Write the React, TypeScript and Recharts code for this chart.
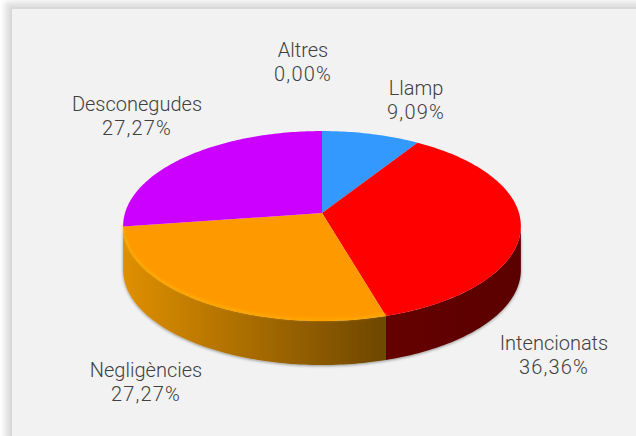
import React from "react";
import { PieChart, Pie, Cell } from "recharts";

const categories = ["Llamp", "Intencionats", "Negligències", "Desconegudes", "Altres"];
const counts = [1, 4, 3, 3, 0];
const colors = ["#3399ff", "#ff0000", "#ff9900", "#cc00ff", "#a5a5a5"];
const wallFills = ["#1f5f9f", "url(#wallRed)", "url(#wallOrange)", "#7f0099", "#666666"];
const data = categories.map((name, i) => ({ name, value: counts[i] }));

// Perspective of the pie disc (fitted to the picture)
const CX = 322;
const CY = 213;
const A = 197;
const B = 93.2;
const K = 0.137;
const DEPTH = 44;
const SILHOUETTE = (Math.asin(K) * 180) / Math.PI;

// Label anchors (centre x, first baseline y)
const labelAnchors: Record<string, [number, number]> = {
  Llamp: [416, 95],
  Intencionats: [554, 350],
  "Negligències": [146, 377],
  Desconegudes: [137, 111],
  Altres: [303, 57],
};

const project = (deg: number): [number, number] => {
  const r = (deg * Math.PI) / 180;
  const u = Math.cos(r);
  const v = -Math.sin(r);
  const w = 1 - K * v;
  return [CX + (A * u) / w, CY + (B * v) / w];
};

const arcPoints = (from: number, to: number) => {
  const n = Math.max(2, Math.ceil(Math.abs(from - to)));
  const pts: [number, number][] = [];
  for (let i = 0; i <= n; i++) pts.push(project(from + ((to - from) * i) / n));
  return pts;
};

const toPath = (pts: [number, number][]) =>
  pts.map((p, i) => `${i ? "L" : "M"}${p[0].toFixed(2)},${p[1].toFixed(2)}`).join(" ");

const Slice = (props: any) => {
  const { startAngle, endAngle, fill, index } = props;
  if (Math.abs(startAngle - endAngle) < 0.01) return null;
  const rim = arcPoints(startAngle, endAngle);
  const top = `M${CX},${CY} ${toPath(rim).replace("M", "L")} Z`;
  // Visible part of the rim: between the two silhouette points of the disc
  const lo = Math.max(endAngle, -180 + SILHOUETTE);
  const hi = Math.min(startAngle, -SILHOUETTE);
  let wall: string | null = null;
  let front: string | null = null;
  if (hi > lo) {
    const f = arcPoints(hi, lo);
    const b = [...f].reverse().map((p) => [p[0], p[1] + DEPTH] as [number, number]);
    wall = `${toPath(f)} ${toPath(b).replace("M", "L")} Z`;
    front = toPath(f);
  }
  return (
    <g>
      {wall && <path d={wall} fill={wallFills[index]} filter="url(#wallShadow)" />}
      <path d={top} fill={fill} />
      {front && index === 2 && (
        <path
          d={front}
          fill="none"
          stroke="#ffb300"
          strokeOpacity={0.7}
          strokeWidth={2}
          transform="translate(0,-1.5)"
          filter="url(#soft)"
        />
      )}
    </g>
  );
};

const renderLabel = (props: any) => {
  const { name, percent } = props;
  const [x, y] = labelAnchors[name];
  const pct = (percent * 100).toFixed(2).replace(".", ",") + "%";
  return (
    <text x={x} y={y} textAnchor="middle" fill="#404040" fontSize={20} fontFamily="Roboto" fontWeight={300}>
      <tspan x={x} dy={0}>{name}</tspan>
      <tspan x={x} dy={24} letterSpacing={1.2}>{pct}</tspan>
    </text>
  );
};

export default function App() {
  return (
    <div style={{ position: "absolute", left: 0, top: 0, width: 636, height: 436, background: "#ffffff", overflow: "hidden" }}>
      <div
        style={{
          position: "absolute",
          left: 10,
          top: 7,
          width: 660,
          height: 460,
          boxSizing: "border-box",
          background: "#f2f2f2",
          border: "2px solid #d9d9d9",
          boxShadow: "0 0 6px 5px #dedede",
        }}
      />
      <div style={{ position: "absolute", left: 0, top: 0 }}>
        <PieChart width={636} height={436} margin={{ top: 0, right: 0, bottom: 0, left: 0 }}>
          <defs>
            <linearGradient id="wallOrange" gradientUnits="userSpaceOnUse" x1="122" y1="0" x2="385" y2="0">
              <stop offset="0" stopColor="#e09000" />
              <stop offset="1" stopColor="#6e4700" />
            </linearGradient>
            <linearGradient id="wallRed" gradientUnits="userSpaceOnUse" x1="385" y1="0" x2="521" y2="0">
              <stop offset="0" stopColor="#660000" />
              <stop offset="1" stopColor="#5a0000" />
            </linearGradient>
            <filter id="wallShadow" x="-10%" y="-10%" width="120%" height="130%">
              <feDropShadow dx="0" dy="1" stdDeviation="1.5" floodColor="#000000" floodOpacity="0.4" />
            </filter>
            <filter id="soft" x="-5%" y="-5%" width="110%" height="110%">
              <feGaussianBlur stdDeviation="0.8" />
            </filter>
          </defs>
          <Pie
            data={data}
            dataKey="value"
            nameKey="name"
            cx={CX}
            cy={CY}
            outerRadius={A}
            startAngle={90}
            endAngle={-270}
            stroke="none"
            isAnimationActive={false}
            labelLine={false}
            label={renderLabel}
            shape={Slice}
          >
            {data.map((d, i) => (
              <Cell key={d.name} fill={colors[i]} />
            ))}
          </Pie>
        </PieChart>
      </div>
    </div>
  );
}
